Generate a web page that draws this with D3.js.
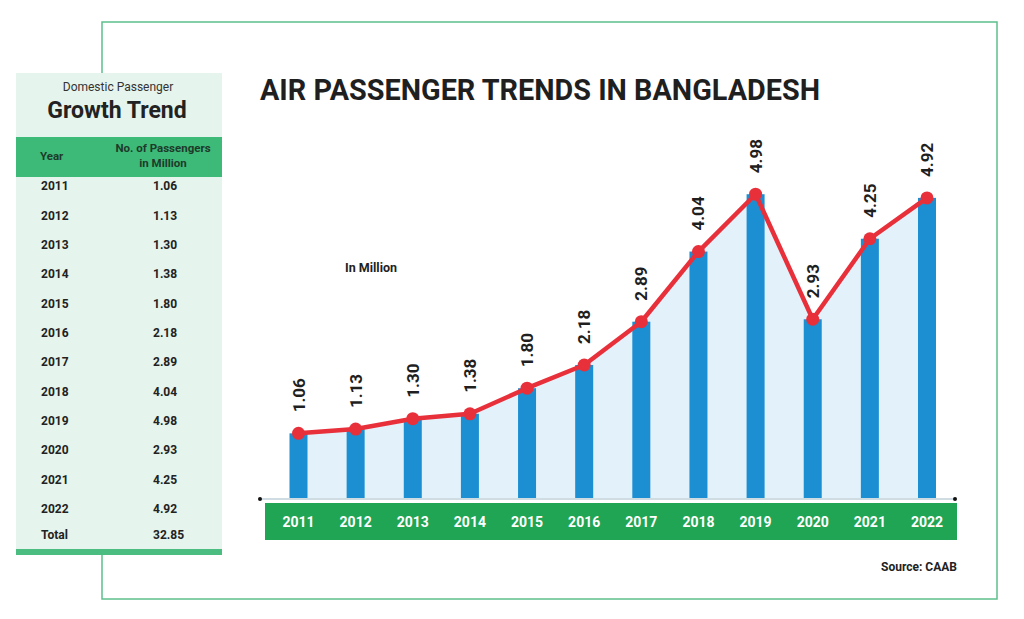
<!DOCTYPE html>
<html><head><meta charset="utf-8">
<script src="https://cdn.jsdelivr.net/npm/d3@7"></script>
<style>
html,body{margin:0;padding:0;background:#fff;}
svg{display:block;font-family:Roboto,"Noto Sans",sans-serif;}
</style></head>
<body><svg id="c" width="1024" height="619"></svg>
<script>
const years = ["2011","2012","2013","2014","2015","2016","2017","2018","2019","2020","2021","2022"];
const passengers = [1.06,1.13,1.30,1.38,1.80,2.18,2.89,4.04,4.98,2.93,4.25,4.92];
const valueLabels = ["1.06","1.13","1.30","1.38","1.80","2.18","2.89","4.04","4.98","2.93","4.25","4.92"];
const totalLabel = "32.85";
const title = "AIR PASSENGER TRENDS IN BANGLADESH";

const svg = d3.select("#c");
const frameGreen = "#5cbf8c";

// outer frame
svg.append("rect").attr("x",102).attr("y",22).attr("width",895).attr("height",577)
  .attr("fill","none").attr("stroke",frameGreen).attr("stroke-width",1.5);

// ---- left table ----
const tx = 16, tw = 206;
svg.append("rect").attr("x",tx).attr("y",73).attr("width",tw).attr("height",478).attr("fill","#e5f4ec");
svg.append("rect").attr("x",tx).attr("y",137).attr("width",tw).attr("height",40).attr("fill","#3dba78");
svg.append("rect").attr("x",tx).attr("y",549).attr("width",tw).attr("height",6).attr("fill","#4cbd80");
svg.append("text").attr("x",118).attr("y",91).attr("text-anchor","middle")
  .attr("font-size",12).attr("fill","#333").text("Domestic Passenger");
svg.append("text").attr("x",117).attr("y",118).attr("text-anchor","middle")
  .attr("font-size",23).attr("font-weight","bold").attr("fill","#222").text("Growth Trend");
svg.append("text").attr("x",40).attr("y",160).attr("font-size",11.5).attr("font-weight","bold").attr("fill","#1d3a2a").text("Year");
svg.append("text").attr("x",163).attr("y",152).attr("text-anchor","middle").attr("font-size",11.5).attr("font-weight","bold").attr("fill","#1d3a2a").text("No. of Passengers");
svg.append("text").attr("x",163).attr("y",167).attr("text-anchor","middle").attr("font-size",11.5).attr("font-weight","bold").attr("fill","#1d3a2a").text("in Million");

const rowY = d3.scaleLinear().domain([0, years.length-1]).range([186, 509]);
const rows = svg.append("g");
years.forEach((yr,i)=>{
  rows.append("text").attr("x",41).attr("y",rowY(i)).attr("dy","0.35em")
    .attr("font-size",12).attr("font-weight","bold").attr("fill","#222").text(yr);
  rows.append("text").attr("x",153).attr("y",rowY(i)).attr("dy","0.35em")
    .attr("font-size",12).attr("font-weight","bold").attr("fill","#222").text(valueLabels[i]);
});
rows.append("text").attr("x",41).attr("y",535).attr("dy","0.35em").attr("font-size",12).attr("font-weight","bold").attr("fill","#222").text("Total");
rows.append("text").attr("x",153).attr("y",535).attr("dy","0.35em").attr("font-size",12).attr("font-weight","bold").attr("fill","#222").text(totalLabel);

// ---- chart ----
svg.append("text").attr("x",260).attr("y",100).attr("font-size",29).attr("font-weight","bold")
  .attr("fill","#1f1f1f").attr("textLength",560).attr("lengthAdjust","spacingAndGlyphs").text(title);

const x = d3.scalePoint().domain(years).range([298.5, 927]);
const y = d3.scaleLinear().domain([0,5]).range([498, 193]);
const data = years.map((yr,i)=>({yr, v:passengers[i], lab:valueLabels[i]}));

// area
svg.append("path").datum(data)
  .attr("d", d3.area().x(d=>x(d.yr)).y0(y(0)).y1(d=>y(d.v)))
  .attr("fill","#e3f1fa");

// bars
const bw = 18;
svg.append("g").selectAll("rect").data(data).join("rect")
  .attr("x",d=>x(d.yr)-bw/2).attr("y",d=>y(d.v)).attr("width",bw).attr("height",d=>y(0)-y(d.v))
  .attr("fill","#1b8fd2");

// axis baseline
svg.append("line").attr("x1",260).attr("x2",955).attr("y1",y(0)+1).attr("y2",y(0)+1)
  .attr("stroke","#9fb9c6").attr("stroke-width",1.2);
svg.append("circle").attr("cx",260).attr("cy",y(0)+1).attr("r",2).attr("fill","#111");
svg.append("circle").attr("cx",955).attr("cy",y(0)+1).attr("r",2).attr("fill","#111");

// green band with year labels
svg.append("rect").attr("x",265).attr("y",503).attr("width",692).attr("height",37).attr("fill","#1fa553");
svg.append("g").selectAll("text").data(data).join("text")
  .attr("x",d=>x(d.yr)).attr("y",522).attr("dy","0.35em").attr("text-anchor","middle")
  .attr("font-size",14).attr("font-weight","bold").attr("fill","#fff").text(d=>d.yr);

// line + markers
svg.append("path").datum(data)
  .attr("d", d3.line().x(d=>x(d.yr)).y(d=>y(d.v)))
  .attr("fill","none").attr("stroke","#e8303b").attr("stroke-width",4.5).attr("stroke-linejoin","round");
svg.append("g").selectAll("circle").data(data).join("circle")
  .attr("cx",d=>x(d.yr)).attr("cy",d=>y(d.v)).attr("r",6.5).attr("fill","#e8303b");

// value labels rotated
svg.append("g").selectAll("text").data(data).join("text")
  .attr("transform",d=>`translate(${x(d.yr)+6},${y(d.v)-21}) rotate(-90)`)
  .attr("font-size",17).attr("font-weight","bold").attr("fill","#1f1f1f").text(d=>d.lab);

svg.append("text").attr("x",345).attr("y",272).attr("font-size",12.5).attr("font-weight","bold").attr("fill","#222").text("In Million");
svg.append("text").attr("x",957).attr("y",571).attr("text-anchor","end").attr("font-size",12).attr("font-weight","bold").attr("fill","#222").text("Source: CAAB");
</script></body></html>
